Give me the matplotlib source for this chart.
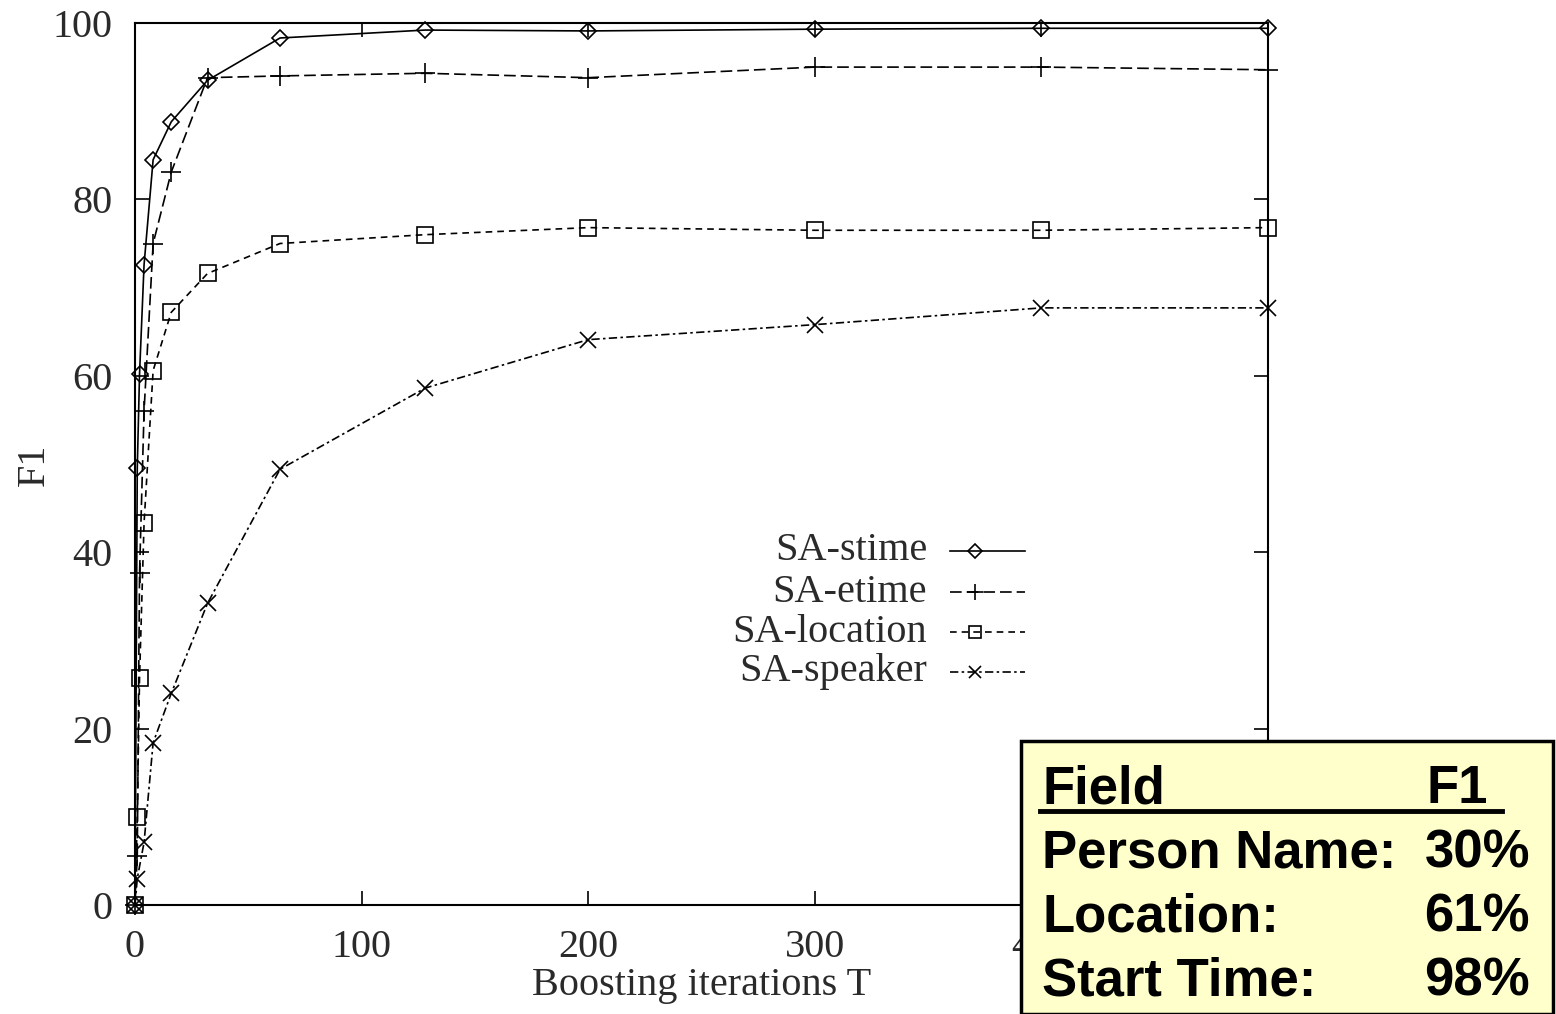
import matplotlib
matplotlib.use("Agg")
import matplotlib.pyplot as plt
from matplotlib.patches import Rectangle
from matplotlib.lines import Line2D

# ---- data ----
x_stime = [0, 1, 2, 4, 8, 16, 32, 64, 128, 200, 300, 400, 500]
stime = [0, 49.5, 60.2, 72.6, 84.5, 88.8, 93.5, 98.3, 99.2, 99.1, 99.3, 99.4, 99.4]

x_etime = [0, 1, 2, 4, 8, 16, 32, 64, 128, 200, 300, 400, 500]
etime = [0, 5.5, 37.6, 56.0, 75.0, 83.1, 93.8, 94.0, 94.3, 93.8, 95.0, 95.0, 94.7]

x_location = [0, 1, 2, 4, 8, 16, 32, 64, 128, 200, 300, 400, 500]
location = [0, 10.0, 25.7, 43.3, 60.6, 67.2, 71.6, 75.0, 76.0, 76.8, 76.5, 76.5, 76.8]

x_speaker = [0, 1, 4, 8, 16, 32, 64, 128, 200, 300, 400, 500]
speaker = [0, 3.0, 7.1, 18.4, 24.0, 34.2, 49.4, 58.6, 64.1, 65.8, 67.7, 67.7]

series_labels = ["SA-stime", "SA-etime", "SA-location", "SA-speaker"]

x_ticks = [0, 100, 200, 300, 400, 500]
y_ticks = [0, 20, 40, 60, 80, 100]

table_header = ["Field", "F1"]
table_fields = ["Person Name:", "Location:", "Start Time:"]
table_values = ["30%", "61%", "98%"]

# ---- figure ----
W, H = 1556, 1014
fig = plt.figure(figsize=(W / 100, H / 100), dpi=100)
AX_L, AX_R, AX_T, AX_B = 135, 1268, 23, 905
ax = fig.add_axes([AX_L / W, 1 - AX_B / H, (AX_R - AX_L) / W, (AX_B - AX_T) / H])

serif = ["Liberation Serif", "DejaVu Serif"]
txtcol = "#2a2a2a"

styles = [
    dict(ls="-", marker="D", ms=8),
    dict(ls=(0, (7, 3)), marker="+", ms=14),
    dict(ls=(0, (4, 3)), marker="s", ms=11),
    dict(ls=(0, (5, 2, 1.5, 2)), marker="x", ms=11),
]
xs = [x_stime, x_etime, x_location, x_speaker]
ys = [stime, etime, location, speaker]

for xv, yv, st, lab in zip(xs, ys, styles, series_labels):
    ax.plot(xv, yv, color="black", lw=1.2, linestyle=st["ls"],
            marker=st["marker"], markersize=st["ms"], markerfacecolor="none",
            markeredgecolor="black", markeredgewidth=1.2, label=lab, clip_on=False)

ax.set_xlim(0, 500)
ax.set_ylim(0, 100)
ax.set_xticks(x_ticks)
ax.set_yticks(y_ticks)
ax.tick_params(direction="in", length=10, width=1.2, top=True, right=True,
               labelsize=29)
ax.tick_params(axis="y", pad=16)
ax.tick_params(axis="x", pad=17)
for lbl in ax.get_xticklabels() + ax.get_yticklabels():
    lbl.set_fontfamily(serif)
    lbl.set_color(txtcol)
for sp in ax.spines.values():
    sp.set_linewidth(1.5)

ax_w = AX_R - AX_L
ax_h = AX_B - AX_T
ax.set_xlabel("Boosting iterations T", fontsize=29, family=serif, color=txtcol)
ax.xaxis.label.set_va("center")
ax.xaxis.set_label_coords(0.5, (AX_B - 985) / ax_h)
ax.set_ylabel("F1", fontsize=29, family=serif, color=txtcol)
ax.yaxis.label.set_va("center")
ax.yaxis.label.set_ha("center")
ax.yaxis.set_label_coords((34 - AX_L) / ax_w, (AX_B - 465) / ax_h)

# ---- gnuplot-style key: text right-aligned, sample to its right ----
def px2ax(px, py):
    return ((px - AX_L) / ax_w, (AX_B - py) / ax_h)

key_rows_py = [551, 592, 632, 672]
for lab, st, py in zip(series_labels, styles, key_rows_py):
    tx, ty = px2ax(927, py)
    ax.text(tx, ty, lab, transform=ax.transAxes, ha="right", va="center",
            fontsize=29, family=serif, color=txtcol)
    x0, _ = px2ax(950, py)
    x1, _ = px2ax(1025, py)
    xm, _ = px2ax(975, py)
    ax.add_line(Line2D([x0, x1], [ty, ty], transform=ax.transAxes, color="black",
                       lw=1.2, linestyle=st["ls"]))
    ax.add_line(Line2D([xm], [ty], transform=ax.transAxes, color="black",
                       marker=st["marker"], markersize=st["ms"] * 0.85,
                       markerfacecolor="none", markeredgewidth=1.2, linestyle="none"))

# ---- yellow table box ----
box = Rectangle((1021 / W, 0 / H), (1553 - 1021) / W, (1014 - 741) / H,
                transform=fig.transFigure, facecolor="#FFFFCC", edgecolor="black",
                linewidth=2.5, zorder=5, clip_on=False)
fig.patches.append(box)

bold = dict(family=["Liberation Sans", "DejaVu Sans"], fontweight="bold", fontsize=38,
            color="black", zorder=6)
fig.text(1042 / W, 1 - 803 / H, table_header[0], ha="left", va="baseline", **bold)
fig.text(1488 / W, 1 - 803 / H, table_header[1], ha="right", va="baseline", **bold)
fig.add_artist(Line2D([1040 / W, 1502 / W], [1 - 811 / H, 1 - 811 / H],
                      transform=fig.transFigure, color="black", lw=3.5, zorder=6))
for i, (f, v) in enumerate(zip(table_fields, table_values)):
    yb = 1 - (868 + 64 * i) / H
    fig.text(1042 / W, yb, f, ha="left", va="baseline", **bold)
    fig.text(1530 / W, yb, v, ha="right", va="baseline", **bold)

fig.savefig("out.png", dpi=100, facecolor="white")
